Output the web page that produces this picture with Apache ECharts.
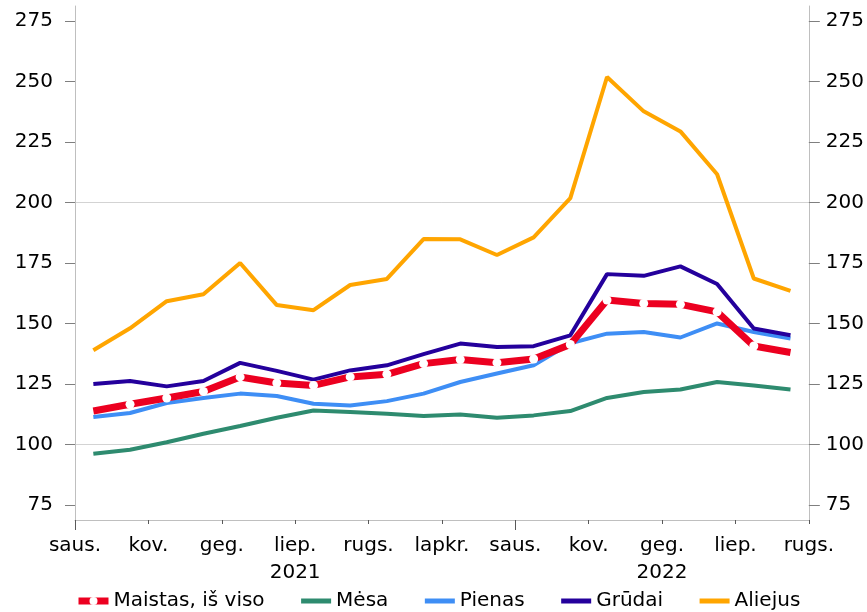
<!DOCTYPE html>
<html>
<head>
<meta charset="utf-8">
<script src="https://cdn.jsdelivr.net/npm/echarts@6/dist/echarts.min.js"></script>
<style>
  html, body { margin: 0; padding: 0; background: #fff; }
  #chart { width: 867px; height: 612px; }
</style>
</head>
<body>
<div id="chart"></div>
<script>
// monthly points, Jan 2021 .. Aug 2022
const months = ['2021-01','2021-02','2021-03','2021-04','2021-05','2021-06','2021-07','2021-08','2021-09','2021-10',
  '2021-11','2021-12','2022-01','2022-02','2022-03','2022-04','2022-05','2022-06','2022-07','2022-08']

// labels sit on month boundaries
const tickMonths = ['saus.','vas.','kov.','bal.','geg.','birž.','liep.','rugp.','rugs.','spal.','lapkr.','gruod.',
  'saus.','vas.','kov.','bal.','geg.','birž.','liep.','rugp.','rugs.']
const yearRow = ['','','','','','','2021','','','','','','','','','','2022','','','','']
const yearStarts = [0, 12]
const yTicks = [75, 100, 125, 150, 175, 200, 225, 250, 275]

const maistas = [113.8,116.6,119.2,121.9,127.9,125.4,124.4,127.9,129.0,133.4,135.1,133.8,135.3,141.3,159.7,158.3,157.9,154.8,140.7,138.0]
const mesa = [96.1,97.8,100.9,104.4,107.6,111.0,114.0,113.4,112.7,111.7,112.4,111.0,112.0,113.8,119.2,121.7,122.7,125.8,124.4,122.7]
const pienas = [111.3,113.0,117.1,119.2,121.0,120.0,116.8,116.1,117.9,121.0,125.8,129.3,132.7,141.8,145.8,146.5,144.2,150.0,146.5,143.8]
const grudai = [125.0,126.2,124.0,126.2,133.7,130.4,126.8,130.6,132.7,137.3,141.7,140.3,140.6,145.1,170.4,169.7,173.6,166.3,147.9,145.1]
const aliejus = [138.9,148.0,159.2,162.1,175.0,157.6,155.5,165.9,168.4,184.9,184.8,178.3,185.6,201.8,251.9,237.7,229.4,211.7,168.6,163.5]

const FONT = 'DejaVu Sans'

const chart = echarts.init(document.getElementById('chart'))

const yAxisBase = {
  type: 'value',
  min: 68.75,
  max: 281.25,
  interval: 6.25,
  axisLine: { show: true, lineStyle: { color: '#BFBFBF', width: 1 } },
  axisTick: { show: true, customValues: yTicks, length: 10, lineStyle: { color: '#7F7F7F' } },
  axisLabel: {
    customValues: yTicks,
    color: '#000',
    fontSize: 20,
    fontFamily: FONT,
    formatter: (v) => (v % 25 === 0 ? String(v) : '')
  }
}

// plain lines: no symbols, and an invisible symbol in the legend
const simpleLine = (name, data, color) => ({
  name: name,
  type: 'line',
  data: data,
  symbol: 'none',
  lineStyle: { color: color, width: 4 },
  itemStyle: { color: color, opacity: 0 },
  emphasis: { disabled: true }
})

const option = {
  animation: false,
  textStyle: { fontFamily: FONT },
  grid: { left: 75, right: 57, top: 6, bottom: 92, containLabel: false },
  legend: {
    data: [
      { name: 'Maistas, iš viso', lineStyle: { width: 7 } },
      'Mėsa', 'Pienas', 'Grūdai', 'Aliejus'
    ],
    left: 70,
    bottom: -4,
    itemWidth: 30,
    itemHeight: 10,
    itemGap: 34,
    lineStyle: { width: 5 },
    textStyle: { fontSize: 20, color: '#000', fontFamily: FONT }
  },
  xAxis: [
    { type: 'category', data: months, boundaryGap: true, position: 'top', show: false },
    {
      type: 'category',
      data: tickMonths,
      boundaryGap: false,
      position: 'bottom',
      axisLine: { lineStyle: { color: '#BFBFBF' } },
      axisTick: { interval: 1, length: 4, lineStyle: { color: '#595959' } },
      axisLabel: {
        interval: 1,
        margin: 12,
        color: '#000',
        fontSize: 20,
        lineHeight: 27,
        fontFamily: FONT,
        formatter: (v, i) => (yearRow[i] ? v + '\n' + yearRow[i] : v)
      }
    },
    {
      type: 'category',
      data: tickMonths,
      boundaryGap: false,
      position: 'bottom',
      axisLine: { show: false },
      axisLabel: { show: false },
      axisTick: { interval: (i) => yearStarts.indexOf(i) >= 0, length: 10, lineStyle: { color: '#595959' } }
    }
  ],
  yAxis: [
    Object.assign({}, yAxisBase, {
      position: 'left',
      axisLabel: Object.assign({}, yAxisBase.axisLabel, { margin: 22 }),
      splitLine: { show: true, lineStyle: { color: ['transparent', '#D3D3D3', 'transparent', 'transparent'], width: 1 } }
    }),
    Object.assign({}, yAxisBase, {
      position: 'right',
      axisTick: Object.assign({}, yAxisBase.axisTick, { length: 11 }),
      axisLabel: Object.assign({}, yAxisBase.axisLabel, { margin: 17 }),
      splitLine: { show: false }
    })
  ],
  series: [
    {
      name: 'Maistas, iš viso',
      type: 'line',
      data: maistas,
      z: 5,
      symbol: 'circle',
      symbolSize: (val, params) => (params.dataIndex === 0 || params.dataIndex === maistas.length - 1 ? 0 : 9),
      lineStyle: { color: '#EC0020', width: 7 },
      itemStyle: { color: '#fff', borderWidth: 0 },
      emphasis: { disabled: true }
    },
    simpleLine('Mėsa', mesa, '#2E8B6F'),
    simpleLine('Pienas', pienas, '#3E8EF5'),
    simpleLine('Grūdai', grudai, '#24009C'),
    simpleLine('Aliejus', aliejus, '#FFA500')
  ]
}

chart.setOption(option)
</script>
</body>
</html>
